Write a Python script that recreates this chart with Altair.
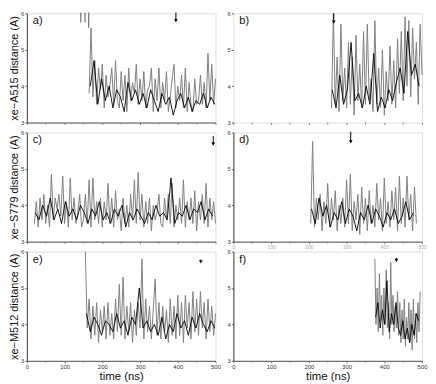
import altair as alt
import pandas as pd

# ---------------- data ----------------
# panel a  (xe-A515, run 1)
a_gray_start, a_gray_step = 165, 5
a_gray = [3.8, 5.6, 3.7, 4.7, 3.5, 4.5, 3.9, 4.6,
          3.4, 4.3, 3.7, 4.0, 4.5, 3.5, 4.7, 3.6, 3.4, 4.4,
          3.6, 4.3, 3.3, 4.5, 3.6, 4.1, 3.8, 4.6, 3.5, 4.2,
          3.6, 4.4, 3.4, 3.9, 4.0, 4.5, 3.3, 4.2, 3.6, 4.5,
          3.4, 4.1, 3.6, 4.4, 3.3, 3.7, 4.2, 4.6, 3.4, 4.0,
          3.6, 4.3, 3.4, 4.5, 3.3, 4.1, 3.5, 3.3, 4.2, 3.5,
          3.6, 4.3, 3.5, 4.1, 3.4, 4.9, 3.6, 4.6, 3.5, 4.2]
a_black_start, a_black_step = 168, 10
a_black = [4.0, 4.7, 3.5, 4.2, 3.6, 4.0, 3.4, 3.9, 3.7, 3.3, 4.1, 3.6, 3.9, 3.5,
           3.8, 3.4, 3.9, 3.6, 3.3, 3.8, 3.5, 3.7, 3.2, 3.6, 3.8, 3.4, 3.7, 3.3,
           3.6, 3.5, 3.8, 3.4, 3.7, 3.5]
a_spike_t = [143, 154, 164]
a_spike_top = [6.02, 6.02, 6.02]
a_spike_bot = [5.75, 5.75, 5.6]

# panel b  (xe-A515, run 2)
b_gray_start, b_gray_step = 260, 5
b_gray = [3.4, 6.0, 3.5, 4.8, 3.3, 5.7, 3.6, 4.5, 3.4, 5.2,
          3.5, 4.8, 3.2, 5.4, 3.6, 4.6, 3.4, 5.5, 3.5, 5.7,
          3.6, 4.2, 3.3, 5.8, 3.5, 4.5, 3.4, 5.0, 3.2, 4.4,
          3.6, 5.1, 3.5, 4.7, 3.4, 5.3, 3.8, 5.5, 3.6, 5.9,
          4.0, 5.8, 3.7, 5.6, 4.2, 5.2, 3.5, 5.7, 4.3]
b_black_start, b_black_step = 262, 10
b_black = [3.9, 3.4, 4.3, 3.5, 3.9, 5.2, 3.6, 3.8, 3.4, 4.0, 3.5, 4.9,
           3.3, 3.7, 3.4, 3.9, 3.6, 4.1, 4.5, 3.8, 5.5, 4.3, 4.6, 4.0]

# panel c  (xe-S779, run 1)
c_gray_start, c_gray_step = 20, 5
c_gray = [3.5, 4.1, 3.4, 4.2, 3.6, 4.3, 3.5, 4.0, 3.4, 4.85,
          3.6, 4.2, 3.9, 4.3, 3.7, 4.8, 3.5, 4.1, 3.4, 4.75,
          3.6, 4.2, 3.5, 3.8, 4.3, 3.4, 3.6, 4.3, 3.5, 4.7,
          3.4, 4.75, 3.6, 4.1, 3.5, 4.2, 3.4, 4.1, 3.6, 4.6,
          3.5, 4.2, 3.4, 4.4, 3.6, 3.9, 3.3, 4.2, 3.5, 4.0,
          3.4, 4.3, 3.6, 4.7, 3.5, 4.9, 3.6, 4.3, 3.4, 4.1,
          3.5, 4.2, 3.3, 4.0, 3.6, 3.8, 4.3, 3.5, 3.4, 4.2,
          3.6, 4.3, 3.5, 4.6, 3.4, 4.0, 3.6, 4.2, 3.5, 4.7,
          3.4, 4.1, 3.6, 4.2, 3.5, 4.4, 3.3, 4.1, 3.6, 4.3,
          3.5, 4.6, 3.4, 4.2, 3.6, 4.1, 3.5]
c_black_start, c_black_step = 22, 10
c_black = [3.8, 3.6, 4.0, 3.7, 4.2, 3.6, 3.9, 3.5, 4.1, 3.7,
           3.9, 3.6, 4.0, 3.8, 3.5, 3.9, 3.7, 4.1, 3.6, 3.8,
           3.5, 3.9, 3.7, 4.0, 3.4, 3.8, 3.6, 3.9, 3.7, 3.5,
           3.8, 3.6, 4.0, 3.7, 3.8, 3.6, 4.75, 3.5, 3.8, 3.7,
           4.0, 3.6, 3.9, 3.8, 4.1, 3.6, 3.9, 3.7]

# panel d  (xe-S779, run 2)
d_gray_start, d_gray_step = 205, 5
d_gray = [3.5, 5.75, 3.4, 4.2, 3.6, 4.3, 3.3, 4.1, 3.5, 4.6,
          3.4, 4.2, 3.6, 4.4, 3.3, 4.0, 3.5, 4.2, 3.4, 4.7,
          3.5, 4.85, 3.3, 4.1, 3.6, 4.3, 3.2, 4.5, 3.5, 4.2,
          3.3, 4.4, 3.5, 4.0, 3.4, 4.6, 3.6, 4.2, 3.3, 4.75,
          3.5, 4.1, 3.4, 4.4, 3.6, 4.5, 3.3, 4.8, 3.5, 4.2,
          3.4, 4.8, 3.6, 4.3, 3.3, 4.5, 3.5]
d_black_start, d_black_step = 207, 10
d_black = [3.9, 3.5, 4.2, 3.7, 4.0, 3.4, 3.8, 3.6, 4.1, 3.5, 3.9, 3.7, 3.3, 3.8,
           3.6, 4.0, 3.5, 3.9, 3.7, 3.4, 3.8, 3.6, 3.9, 3.5, 3.7, 4.1, 3.6, 3.8]

# panel e  (xe-M512, run 1)
e_gray_start, e_gray_step = 155, 5
e_gray = [6.0, 3.9, 4.7, 3.6, 4.5, 3.7, 4.6, 3.5, 4.4, 3.8,
          4.5, 3.6, 4.6, 3.7, 4.3, 3.6, 4.7, 3.8, 5.1, 3.7,
          5.3, 3.6, 4.5, 3.8, 4.6, 3.5, 4.4, 3.7, 4.6, 3.9,
          5.8, 3.6, 4.7, 3.8, 4.5, 3.6, 4.4, 5.25, 3.7, 4.6,
          3.6, 4.5, 3.8, 4.4, 3.5, 4.7, 3.7, 4.5, 3.6, 4.8,
          3.7, 4.6, 3.5, 4.8, 3.9, 4.6, 3.6, 4.9, 3.8, 4.7,
          3.7, 4.9, 3.9, 4.6, 3.6, 4.7, 3.8, 4.5, 3.7, 4.3]
e_black_start, e_black_step = 158, 10
e_black = [4.3, 3.8, 4.2, 4.0, 3.7, 4.1, 4.0, 3.8, 4.3, 3.9, 4.1, 3.7, 4.2, 4.0,
           5.0, 3.9, 4.1, 3.8, 4.0, 3.7, 4.2, 3.6, 4.0, 3.8, 4.3, 3.9, 4.1, 3.7,
           4.2, 3.9, 4.3, 4.0, 3.8, 4.1, 3.9]

# panel f  (xe-M512, run 2)
f_gray_start, f_gray_step = 375, 3
f_gray = [5.8, 4.0, 5.0, 3.8, 5.4, 4.1, 4.8, 3.7, 5.0, 4.0,
          5.5, 3.9, 4.6, 3.6, 5.7, 4.0, 4.8, 3.8, 4.5, 3.9,
          4.9, 3.7, 4.6, 3.5, 4.4, 3.6, 4.7, 3.4, 4.2, 3.6,
          4.6, 3.5, 4.4, 3.3, 4.7, 3.6, 4.3, 3.5, 4.6, 3.8, 4.9]
f_black_start, f_black_step = 377, 6
f_black = [4.2, 4.6, 3.9, 4.4, 4.0, 5.2, 3.8, 4.3, 4.0, 4.6,
           3.9, 3.7, 4.1, 3.6, 3.9, 3.5, 4.0, 3.7, 4.3, 4.1]

# arrows: time, top of shaft, tip
arrow_t = {"a": 395, "b": 266, "c": 494, "d": 311, "e": 461, "f": 432}
arrow_top = {"a": 6.02, "b": 6.0, "c": 5.9, "d": 6.02, "e": 5.78, "f": 5.82}
arrow_tip = {"a": 5.8, "b": 5.76, "c": 5.68, "d": 5.74, "e": 5.72, "f": 5.76}

y_titles = ["xe\u2212A515 distance (A)", "xe\u2212S779 distance (A)", "xe\u2212M512 distance (A)"]
x_title = "time (ns)"
x_minor = [50, 150, 250, 350, 450]
x_major = [0, 100, 200, 300, 400, 500]
y_ticks = [3, 4, 5, 6]

FONT = "Liberation Sans"
W, H = 190, 110


def series(start, step, vals):
    return pd.DataFrame({"t": [start + step * i for i in range(len(vals))], "v": vals})


def panel(key, gray, black, ytitle=None, bottom=False, show_domain=True, faint_labels=False):
    xs = alt.Scale(domain=[0, 500], nice=False, zero=False)
    ys = alt.Scale(domain=[3, 6], nice=False, zero=False)
    if bottom:
        xaxis = alt.Axis(values=x_major, labelOverlap=False, labelFlush=False, labelBound=False,
                         labelFontSize=6, labelColor="#333", tickSize=2, grid=False,
                         domain=show_domain, domainColor="#555", tickColor="#777",
                         title=x_title, titleFont=FONT, titleFontSize=11.5, titleFontWeight="normal",
                         titleColor="#111", titlePadding=1, labelPadding=1, labelFont=FONT)
    else:
        xaxis = alt.Axis(values=x_major, labelOverlap=False, labelFlush=False, labelBound=False,
                         labels=faint_labels, labelFontSize=5, labelColor="#aaa",
                         tickSize=2, grid=False, domain=show_domain,
                         domainColor="#555",
                         tickColor="#888", title=None, labelPadding=1)
    yaxis_kw = dict(values=y_ticks, labelFontSize=6, labelColor="#444", tickSize=2, grid=False,
                    domain=show_domain, domainColor="#444", tickColor="#666", labelPadding=1,
                    labelFont=FONT, labelOverlap=False, labelFlush=False, labelBound=False)
    if ytitle:
        yaxis = alt.Axis(title=ytitle, titleFont=FONT, titleFontSize=11, titleFontWeight="normal",
                         titleColor="#111", titlePadding=1, **yaxis_kw)
    else:
        yaxis = alt.Axis(title=None, **yaxis_kw)

    g = alt.Chart(series(*gray)).mark_line(color="#808080", strokeWidth=1).encode(
        x=alt.X("t:Q", scale=xs, axis=xaxis),
        y=alt.Y("v:Q", scale=ys, axis=yaxis),
    )
    b = alt.Chart(series(*black)).mark_line(color="#000000", strokeWidth=0.9).encode(
        x=alt.X("t:Q", scale=xs, axis=xaxis), y=alt.Y("v:Q", scale=ys, axis=yaxis))

    # minor tick marks on the time axis
    mdf = pd.DataFrame({"t": x_minor})
    minor = alt.Chart(mdf).mark_rule(color="#888", strokeWidth=1).encode(
        x=alt.X("t:Q", scale=xs, axis=xaxis), y=alt.value(H), y2=alt.value(H + 2))

    adf = pd.DataFrame({"t": [arrow_t[key]], "top": [arrow_top[key]], "tip": [arrow_tip[key]]})
    shaft = alt.Chart(adf).mark_rule(color="black", strokeWidth=1).encode(
        x=alt.X("t:Q", scale=xs, axis=xaxis), y=alt.Y("top:Q", scale=ys, axis=yaxis), y2="tip:Q")
    head = alt.Chart(adf).mark_point(shape="triangle-down", filled=True, size=14,
                                     color="black", opacity=1).encode(
        x=alt.X("t:Q", scale=xs, axis=xaxis), y=alt.Y("tip:Q", scale=ys, axis=yaxis))

    lab = alt.Chart(pd.DataFrame({"s": [key + ")"]})).mark_text(
        align="left", baseline="top", font=FONT, fontSize=11, color="#111").encode(
        x=alt.value(6), y=alt.value(2), text="s:N")

    layers = [g, b, minor, shaft, head, lab]
    if key == "a":
        sdf = pd.DataFrame({"t": a_spike_t, "top": a_spike_top, "bot": a_spike_bot})
        layers.append(alt.Chart(sdf).mark_rule(color="#555", strokeWidth=1).encode(
            x=alt.X("t:Q", scale=xs, axis=xaxis), y=alt.Y("top:Q", scale=ys, axis=yaxis), y2="bot:Q"))
    return alt.layer(*layers).properties(width=W, height=H)


pa = panel("a", (a_gray_start, a_gray_step, a_gray), (a_black_start, a_black_step, a_black), ytitle=y_titles[0])
pb = panel("b", (b_gray_start, b_gray_step, b_gray), (b_black_start, b_black_step, b_black), show_domain=False)
pc = panel("c", (c_gray_start, c_gray_step, c_gray), (c_black_start, c_black_step, c_black), ytitle=y_titles[1])
pd_ = panel("d", (d_gray_start, d_gray_step, d_gray), (d_black_start, d_black_step, d_black), faint_labels=True)
pe = panel("e", (e_gray_start, e_gray_step, e_gray), (e_black_start, e_black_step, e_black), ytitle=y_titles[2], bottom=True)
pf = panel("f", (f_gray_start, f_gray_step, f_gray), (f_black_start, f_black_step, f_black), bottom=True)

chart = alt.concat(pa, pb, pc, pd_, pe, pf, columns=2,
                   spacing={"row": 10, "column": 18},
                   bounds="flush").properties(
    padding={"left": 0, "top": 0, "right": 0, "bottom": 0}
).configure_view(stroke=None).configure(background="white")

chart.save("out.html", embed_options={"renderer": "svg", "actions": False})
